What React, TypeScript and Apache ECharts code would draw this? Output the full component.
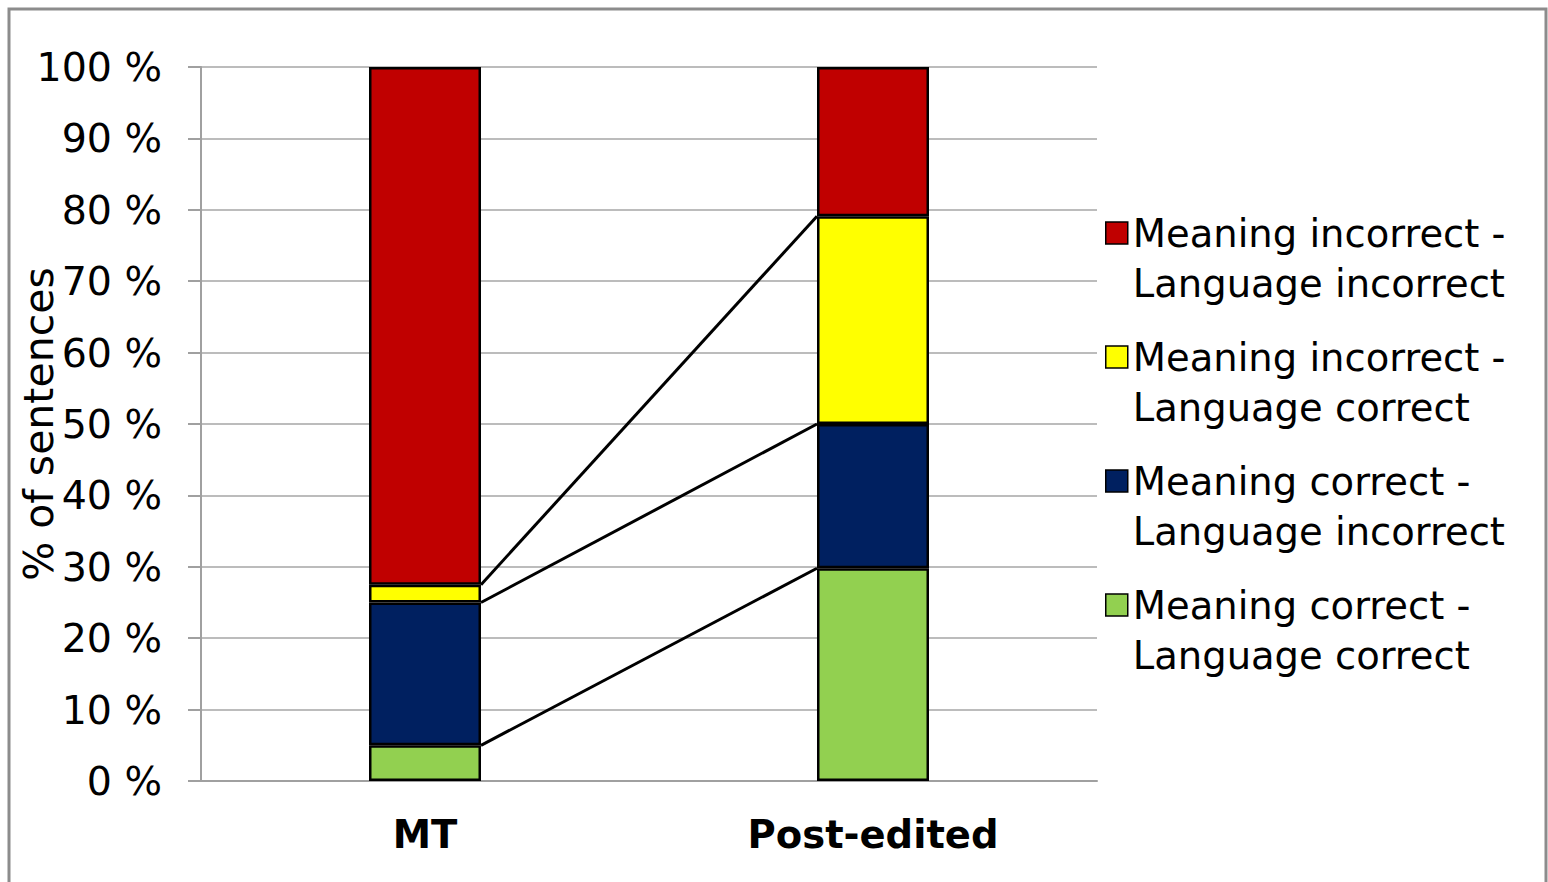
import React, { useEffect, useRef } from "react";
import * as echarts from "echarts";

const categories = ["MT", "Post-edited"];
const seriesNames = [
  "Meaning correct - Language correct",
  "Meaning correct - Language incorrect",
  "Meaning incorrect - Language correct",
  "Meaning incorrect - Language incorrect",
];
const meaningCorrectLanguageCorrect = [5, 29.8];
const meaningCorrectLanguageIncorrect = [20, 20.2];
const meaningIncorrectLanguageCorrect = [2.5, 29.1];
const meaningIncorrectLanguageIncorrect = [72.5, 20.9];
const seriesColors = ["#92D050", "#002060", "#FFFF00", "#C00000"];
const legendOrder = [seriesNames[3], seriesNames[2], seriesNames[1], seriesNames[0]];

const FONT = "'DejaVu Sans', Verdana, sans-serif";

export default function App() {
  const ref = useRef<HTMLDivElement>(null);
  useEffect(() => {
    if (!ref.current) return;
    const chart = echarts.init(ref.current, undefined, { renderer: "svg" });
    const values = [
      meaningCorrectLanguageCorrect,
      meaningCorrectLanguageIncorrect,
      meaningIncorrectLanguageCorrect,
      meaningIncorrectLanguageIncorrect,
    ];
    // cumulative tops of the lower three stacks -> series lines
    const lineData: number[][] = [];
    let cumMT = 0;
    let cumPE = 0;
    for (let i = 0; i < 3; i++) {
      cumMT += values[i][0];
      cumPE += values[i][1];
      lineData.push([0, cumMT, cumPE]);
    }
    const barWidthRatio = 0.25;
    const option: any = {
      animation: false,
      backgroundColor: "#ffffff",
      grid: {
        left: 201,
        right: 451,
        top: 67,
        bottom: 101,
        containLabel: false,
        outerBoundsMode: "none",
      },
      graphic: [
        {
          type: "rect",
          silent: true,
          shape: { x: 9, y: 9, width: 1537, height: 900 },
          style: { fill: "none", stroke: "#8c8c8c", lineWidth: 3 },
        },
      ],
      legend: {
        orient: "vertical",
        left: 1105,
        top: 158,
        padding: 0,
        itemWidth: 22,
        itemHeight: 22,
        itemGap: -26,
        icon: "rect",
        data: legendOrder,
        selectedMode: false,
        formatter: (name: string) => "\n" + name.replace(" - ", " -\n"),
        itemStyle: { borderColor: "#000", borderWidth: 1.5 },
        textStyle: {
          fontFamily: FONT,
          fontSize: 38.5,
          lineHeight: 50,
          color: "#000",
        },
      },
      xAxis: {
        type: "category",
        data: categories,
        axisLine: { show: true, lineStyle: { color: "#a0a0a0", width: 2 } },
        axisTick: { show: false },
        axisLabel: {
          fontFamily: FONT,
          fontSize: 38.5,
          fontWeight: "bold",
          color: "#000",
          margin: 34,
        },
      },
      yAxis: {
        type: "value",
        min: 0,
        max: 100,
        interval: 10,
        name: "% of sentences",
        nameLocation: "middle",
        nameGap: 142,
        nameMoveOverlap: false,
        nameTextStyle: { fontFamily: FONT, fontSize: 41, color: "#000" },
        axisLine: { show: true, lineStyle: { color: "#a0a0a0", width: 2 } },
        axisTick: { show: true, length: 13, lineStyle: { color: "#a0a0a0", width: 2 } },
        splitLine: { show: true, lineStyle: { color: "#a6a6a6", width: 1.5 } },
        axisLabel: {
          fontFamily: FONT,
          fontSize: 39.5,
          color: "#000",
          margin: 39,
          formatter: "{value} %",
        },
      },
      series: [
        ...seriesNames.map((name, i) => ({
          name,
          type: "bar",
          stack: "total",
          barWidth: barWidthRatio * 100 + "%",
          data: values[i],
          itemStyle: { color: seriesColors[i], borderColor: "#000", borderWidth: 2.5 },
          z: 3,
        })),
        {
          name: "series lines",
          type: "custom",
          z: 2,
          silent: true,
          data: lineData,
          encode: { x: 0, y: [1, 2] },
          renderItem: (params: any, api: any) => {
            const v1 = api.value(1);
            const v2 = api.value(2);
            const p1 = api.coord([0, v1]);
            const p2 = api.coord([1, v2]);
            const band = api.size([1, 0])[0];
            const half = (band * barWidthRatio) / 2;
            return {
              type: "line",
              shape: { x1: p1[0] + half, y1: p1[1], x2: p2[0] - half, y2: p2[1] },
              style: { stroke: "#000", lineWidth: 3 },
            };
          },
        },
      ],
    };
    chart.setOption(option);
    return () => chart.dispose();
  }, []);
  return (
    <div
      ref={ref}
      style={{ position: "absolute", left: 0, top: 0, width: 1548, height: 882 }}
    />
  );
}
